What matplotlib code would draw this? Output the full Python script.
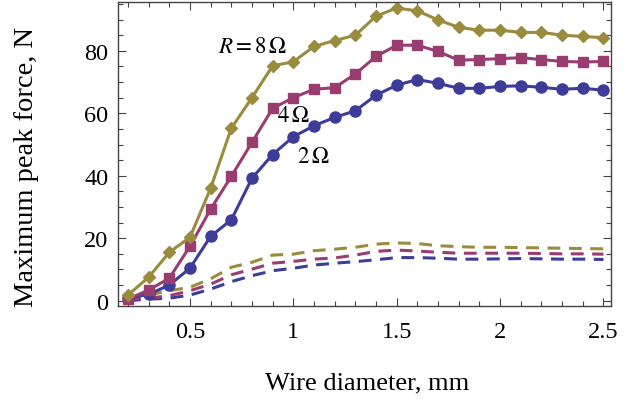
import numpy as np
import matplotlib
matplotlib.use("Agg")
import matplotlib.pyplot as plt
from matplotlib.ticker import MultipleLocator

plt.rcParams['font.family'] = ['Liberation Serif', 'DejaVu Serif']
plt.rcParams['mathtext.fontset'] = 'stix'

# wire diameter, mm
diam = [0.2, 0.3, 0.4, 0.5, 0.6, 0.7, 0.8, 0.9, 1.0, 1.1, 1.2, 1.3,
        1.4, 1.5, 1.6, 1.7, 1.8, 1.9, 2.0, 2.1, 2.2, 2.3, 2.4, 2.5]

# peak force (solid, with markers), N
f_8ohm = [1.8, 7.5, 15.5, 20.3, 36.0, 55.2, 65.0, 75.2, 76.5, 81.4, 83.3, 85.0,
          91.1, 93.7, 92.8, 89.9, 87.5, 86.6, 86.6, 85.9, 85.9, 85.0, 84.6, 84.2]
f_4ohm = [0.5, 3.4, 7.2, 17.4, 29.3, 39.8, 50.7, 61.6, 65.0, 67.7, 68.2, 72.6,
          78.2, 81.8, 81.8, 79.8, 77.0, 77.2, 77.5, 77.8, 77.2, 76.6, 76.4, 76.6]
f_2ohm = [0.8, 2.0, 5.0, 10.4, 20.6, 25.9, 39.2, 46.8, 52.5, 56.0, 58.7, 60.8,
          65.8, 69.0, 70.8, 69.6, 68.0, 68.0, 68.6, 68.8, 68.3, 67.7, 68.0, 67.4]

# dashed curves, N
d_8ohm = [1.1, 1.8, 3.2, 4.3, 7.0, 10.7, 12.3, 14.6, 14.9, 16.0, 16.5, 17.1,
          18.1, 18.5, 18.3, 17.6, 17.3, 17.1, 17.1, 17.0, 16.9, 16.8, 16.7, 16.6]
d_4ohm = [0.3, 0.8, 1.6, 3.2, 5.3, 8.3, 10.1, 12.0, 12.6, 13.3, 13.7, 14.6,
          15.8, 16.2, 15.9, 15.5, 15.2, 15.2, 15.2, 15.2, 15.1, 15.0, 15.0, 14.9]
d_2ohm = [0.0, 0.5, 0.8, 1.8, 3.7, 6.1, 8.0, 9.6, 10.4, 11.4, 12.0, 12.5,
          13.1, 13.8, 13.8, 13.6, 13.3, 13.3, 13.4, 13.5, 13.4, 13.3, 13.3, 13.2]

blue = '#3d3d99'
magenta = '#993d71'
olive = '#998c3d'

fig = plt.figure(figsize=(6.39, 4.02), dpi=100)
ax = fig.add_axes([0.185, 0.2363, 0.771, 0.756])

# dashed lines first
for vals, c in [(d_2ohm, blue), (d_4ohm, magenta), (d_8ohm, olive)]:
    ax.plot(diam, vals, color=c, lw=2.2, dashes=(4.2, 2.8))

ax.plot(diam, f_2ohm, color=blue, lw=2.2, marker='o', ms=8)
ax.plot(diam, f_4ohm, color=magenta, lw=2.2, marker='s', ms=7)
ax.plot(diam, f_8ohm, color=olive, lw=2.2, marker='D', ms=6.3)

ax.set_xlim(0.153, 2.536)
ax.set_ylim(-1.7, 95.6)

ax.xaxis.set_major_locator(MultipleLocator(0.5))
ax.xaxis.set_minor_locator(MultipleLocator(0.1))
ax.yaxis.set_major_locator(MultipleLocator(20))
ax.yaxis.set_minor_locator(MultipleLocator(5))
ax.set_xticks([0.5, 1, 1.5, 2, 2.5])
ax.set_xticklabels(['0.5', '1', '1.5', '2', '2.5'])

ax.tick_params(which='both', direction='in', top=True, right=True,
               color='#444444', labelsize=17.5)
ax.tick_params(which='major', length=6, width=0.8)
ax.tick_params(which='minor', length=3.5, width=0.8)
ax.tick_params(axis='x', pad=11)
ax.tick_params(axis='y', pad=7)
for sp in ax.spines.values():
    sp.set_color('#444444')
    sp.set_linewidth(1.0)

ax.set_xlabel('Wire diameter, mm', fontsize=19)
ax.set_ylabel('Maximum peak force, N', fontsize=20.5)
ax.xaxis.set_label_coords(0.505, -0.215)
ax.yaxis.set_label_coords(-0.16, 0.46)

ax.text(0.635, 81.5, r'$R = 8\,\Omega$', fontsize=16.5, ha='left', va='center')
ax.text(0.92, 59.2, r'$4\,\Omega$', fontsize=16.5, ha='left', va='center')
ax.text(1.018, 46.2, r'$2\,\Omega$', fontsize=16.5, ha='left', va='center')

fig.savefig('out.png', dpi=100)
